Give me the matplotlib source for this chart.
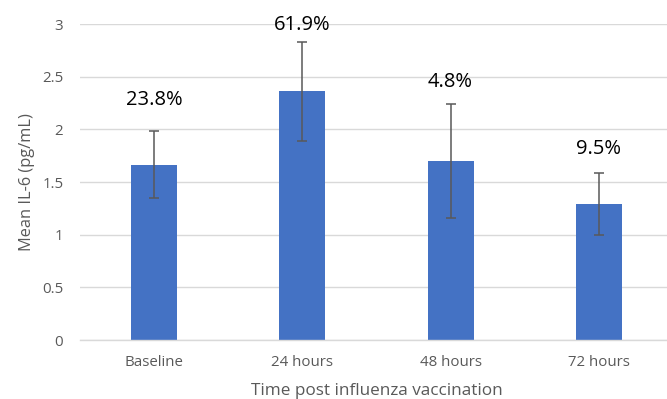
import matplotlib
matplotlib.use('Agg')
import matplotlib.pyplot as plt
import numpy as np

matplotlib.rcParams['font.family'] = ['Open Sans', 'DejaVu Sans']

# --- data ---
categories = ['Baseline', '24 hours', '48 hours', '72 hours']
mean_il6 = [1.66, 2.36, 1.70, 1.29]
err_low = [1.35, 1.89, 1.16, 1.00]
err_high = [1.98, 2.83, 2.24, 1.59]
pct_labels = ['23.8%', '61.9%', '4.8%', '9.5%']

# label heights (text boxes placed by hand in the original)
label_y = [2.28, 2.99, 2.45, 1.81]

bar_color = '#4472C4'
grey = '#595959'

fig = plt.figure(figsize=(6.67, 3.99), dpi=100)
ax = fig.add_axes([80 / 667, 59 / 399, 593 / 667, 316 / 399])

x = np.arange(len(categories))
means = np.array(mean_il6)
yerr = [means - np.array(err_low), np.array(err_high) - means]

ax.bar(x, means, width=0.31, color=bar_color, zorder=2)
ax.errorbar(x, means, yerr=yerr, fmt='none', ecolor=grey, elinewidth=1.1,
            capsize=3.6, capthick=1.1, zorder=3)

for xi, yi, lab in zip(x, label_y, pct_labels):
    ax.text(xi, yi, lab, ha='center', va='center', fontsize=14.5, color='black')

ax.set_xlim(-0.5, len(categories) - 0.5)
ax.set_ylim(0, 3)
ax.set_yticks(np.arange(0, 3.01, 0.5))
ax.set_yticklabels(['0', '0.5', '1', '1.5', '2', '2.5', '3'])
ax.set_xticks(x)
ax.set_xticklabels(categories)
ax.yaxis.grid(True, color='#d9d9d9', linewidth=1.0, zorder=0)
ax.set_axisbelow(True)

for side in ['top', 'right', 'left']:
    ax.spines[side].set_visible(False)
ax.spines['bottom'].set_color('#d9d9d9')
ax.spines['bottom'].set_linewidth(1.0)

ax.tick_params(axis='both', length=0, colors=grey, labelsize=10.8)
ax.tick_params(axis='y', pad=12)
ax.tick_params(axis='x', pad=11)

ax.set_ylabel('Mean IL-6 (pg/mL)', color=grey, fontsize=11.8, labelpad=5)
ax.set_xlabel('Time post influenza vaccination', color=grey, fontsize=12.3, labelpad=9)

plt.savefig('out.png', dpi=100)
plt.close()
